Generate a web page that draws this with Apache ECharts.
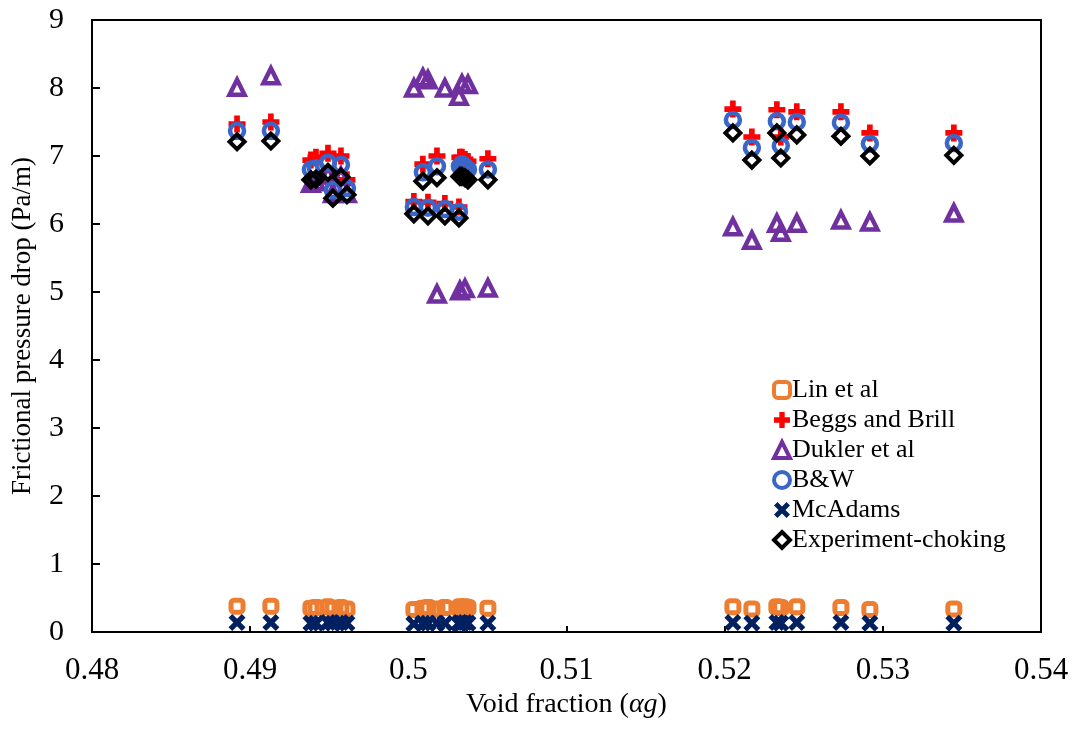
<!DOCTYPE html>
<html><head><meta charset="utf-8">
<script src="https://cdn.jsdelivr.net/npm/echarts@6/dist/echarts.min.js"></script>
<style>html,body{margin:0;padding:0;background:#fff}#c{width:1076px;height:736px}</style>
</head><body><div id="c"></div>
<script>
const voidFraction = [0.48917,0.49131,
 0.49384,0.49416,0.49492,0.49523,0.49574,0.49612,
 0.50035,0.50092,0.50124,0.50181,0.50231,0.5032,0.50326,0.50339,0.50358,0.50377,0.50503,
 0.52052,0.52172,0.5233,0.52355,0.52456,0.52735,0.52918,0.53449];
const linEtAl = [0.38,0.38, 0.35,0.36,0.37,0.35,0.36,0.34,
 0.33,0.35,0.36,0.34,0.36,0.35,0.37,0.36,0.37,0.36,0.35,
 0.37,0.34,0.37,0.36,0.37,0.36,0.33,0.34];
const beggsBrill = [7.47,7.50, 6.94,6.98,7.04,6.62,7.00,6.65,
 6.33,6.88,6.32,7.00,6.30,6.25,6.98,6.98,6.95,6.92,6.96,
 7.69,7.28,7.68,7.28,7.65,7.65,7.34,7.34];
const duklerEtAl = [8.01,8.18, 6.60,6.62,6.72,6.45,6.70,6.45,
 8.00,8.15,8.12,4.97,8.00,7.88,5.02,8.06,5.05,8.05,5.06,
 5.96,5.76,6.01,5.88,6.01,6.06,6.03,6.16];
const bw = [7.37,7.37, 6.80,6.82,6.90,6.50,6.87,6.53,
 6.25,6.76,6.24,6.85,6.22,6.18,6.85,6.88,6.84,6.80,6.80,
 7.53,7.12,7.51,7.15,7.50,7.49,7.18,7.19];
const mcAdams = [0.14,0.14, 0.13,0.13,0.14,0.13,0.14,0.13,
 0.12,0.13,0.13,0.13,0.13,0.12,0.14,0.13,0.14,0.13,0.13,
 0.14,0.13,0.14,0.13,0.14,0.14,0.13,0.13];
const experiment = [7.21,7.22, 6.65,6.66,6.76,6.38,6.69,6.43,
 6.15,6.63,6.12,6.68,6.12,6.09,6.70,6.70,6.68,6.65,6.65,
 7.34,6.94,7.34,6.97,7.31,7.29,7.00,7.01];
const seriesNames = ['Lin et al','Beggs and Brill','Dukler et al','B&W','McAdams','Experiment-choking'];

const FONT = '"Liberation Serif","Times New Roman",serif';
const PLUS = 'path://M-1,-3H1V-1H3V1H1V3H-1V1H-3V-1H-1Z';
const CROSS = 'path://M-3,-1.7L-1.7,-3L0,-1.3L1.7,-3L3,-1.7L1.3,0L3,1.7L1.7,3L0,1.3L-1.7,3L-3,1.7L-1.3,0Z';
const styles = [
  {symbol:'roundRect', size:12, color:'#ED7D31', hollow:true, bw:5},
  {symbol:PLUS, size:17, color:'#FF0000'},
  {symbol:'triangle', size:15, color:'#7030A0', hollow:true, bw:4.5},
  {symbol:'circle', size:14, color:'#3A66C8', hollow:true, bw:4.5},
  {symbol:CROSS, size:17, color:'#002060'},
  {symbol:'diamond', size:15, color:'#000000', hollow:true, bw:4}
];
const valueLists = [linEtAl, beggsBrill, duklerEtAl, bw, mcAdams, experiment];
function itemStyleOf(s){
  return s.hollow ? {color:'rgba(255,255,255,0)', borderColor:s.color, borderWidth:s.bw, opacity:1}
                  : {color:s.color, borderWidth:0, opacity:1};
}
const series = seriesNames.map((name,k)=>({
  name, type:'scatter', symbol:styles[k].symbol, symbolSize:styles[k].size,
  data: voidFraction.map((x,i)=>[x, valueLists[k][i]]),
  itemStyle: itemStyleOf(styles[k])
}));
const legendData = seriesNames.map((name,k)=>{
  const s = styles[k];
  return {name, icon:s.symbol, itemStyle: s.hollow ? {color:'rgba(255,255,255,0)', borderColor:s.color, borderWidth:4} : {color:s.color, borderWidth:0}};
});
const chart = echarts.init(document.getElementById('c'), null, {renderer:'canvas'});
chart.setOption({
  animation:false,
  grid:{left:92, right:35, top:20, bottom:104, show:true, borderColor:'#000', borderWidth:2, backgroundColor:'#fff'},
  xAxis:{type:'value', min:0.48, max:0.54, interval:0.01,
    axisLine:{onZero:false, lineStyle:{color:'#000', width:2}},
    axisTick:{show:true, inside:true, length:6, lineStyle:{color:'#000', width:2}},
    splitLine:{show:false},
    axisLabel:{color:'#000', fontFamily:FONT, fontSize:31, margin:23,
      formatter:v=>String(parseFloat(v.toFixed(2)))},
    name:'Void fraction ({i|αg})', nameLocation:'middle', nameGap:46,
    nameTextStyle:{color:'#000', fontFamily:FONT, fontSize:28,
      rich:{i:{fontFamily:FONT, fontStyle:'italic', fontSize:28, color:'#000'}}}
  },
  yAxis:{type:'value', min:0, max:9, interval:1,
    axisLine:{lineStyle:{color:'#000', width:2}},
    axisTick:{show:true, inside:true, length:8, lineStyle:{color:'#000', width:2}},
    splitLine:{show:false},
    axisLabel:{color:'#000', fontFamily:FONT, fontSize:30, margin:28},
    name:'Frictional pressure drop (Pa/m)', nameLocation:'middle', nameGap:56,
    nameTextStyle:{color:'#000', fontFamily:FONT, fontSize:27}
  },
  legend:{orient:'vertical', left:767, top:372, itemWidth:16, itemHeight:16, itemGap:4,
    data:legendData,
    textStyle:{color:'#000', fontFamily:FONT, fontSize:26, lineHeight:26, padding:[0,0,0,-3]}},
  series
});
</script></body></html>
